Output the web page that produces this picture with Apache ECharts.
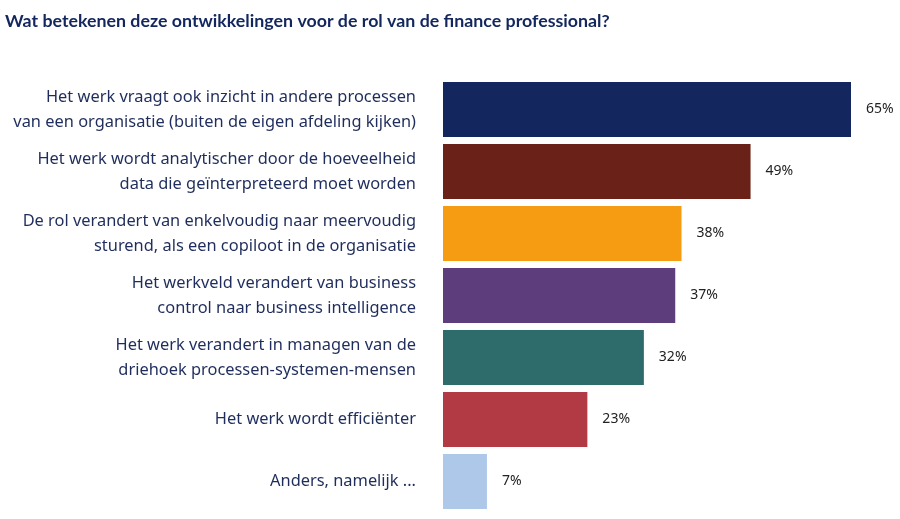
<!DOCTYPE html>
<html lang="nl">
<head>
<meta charset="UTF-8">
<title>Finance professional</title>
<style>
  html, body, #chart { margin: 0; padding: 0; width: 100%; height: 100%; background: #fff; }
</style>
</head>
<body>
<div id="chart"></div>
<script src="https://cdn.jsdelivr.net/npm/echarts@6/dist/echarts.min.js"></script>
<script>
// antwoorden, van boven naar beneden
const categories = [
  'Het werk vraagt ook inzicht in andere processen\nvan een organisatie (buiten de eigen afdeling kijken)',
  'Het werk wordt analytischer door de hoeveelheid\ndata die geïnterpreteerd moet worden',
  'De rol verandert van enkelvoudig naar meervoudig\nsturend, als een copiloot in de organisatie',
  'Het werkveld verandert van business\ncontrol naar business intelligence',
  'Het werk verandert in managen van de\ndriehoek processen-systemen-mensen',
  'Het werk wordt efficiënter',
  'Anders, namelijk ...'
];
const values = [65, 49, 38, 37, 32, 23, 7];
const colors = ['#13275e', '#6a2218', '#f59c12', '#5d3d7b', '#2e6b6b', '#b13a44', '#aec8ea'];

const chart = echarts.init(document.getElementById('chart'));

chart.setOption({
  animation: false,
  textStyle: { fontFamily: 'Noto Sans' },
  title: {
    text: 'Wat betekenen deze ontwikkelingen voor de rol van de finance professional?',
    left: 0, top: 7,
    textStyle: { fontFamily: 'Lato', fontWeight: 'bold', fontSize: 17.8, color: '#13275e' }
  },
  grid: { left: 443, width: 408, top: 78.5, height: 434 },
  xAxis: {
    type: 'value', min: 0, max: 65, show: false
  },
  yAxis: {
    type: 'category',
    inverse: true,
    data: categories,
    axisLine: { show: false },
    axisTick: { show: false },
    axisLabel: {
      margin: 27,
      fontFamily: 'Noto Sans',
      fontSize: 16.4,
      lineHeight: 25,
      color: '#1f2d5c',
      align: 'right'
    }
  },
  series: [{
    type: 'bar',
    barCategoryGap: '11%',
    data: values.map((v, i) => ({ value: v, itemStyle: { color: colors[i] } })),
    label: {
      show: true,
      position: 'right',
      distance: 15,
      formatter: '{c}%',
      fontFamily: 'Noto Sans',
      fontSize: 14,
      color: '#222'
    }
  }]
});
</script>
</body>
</html>
